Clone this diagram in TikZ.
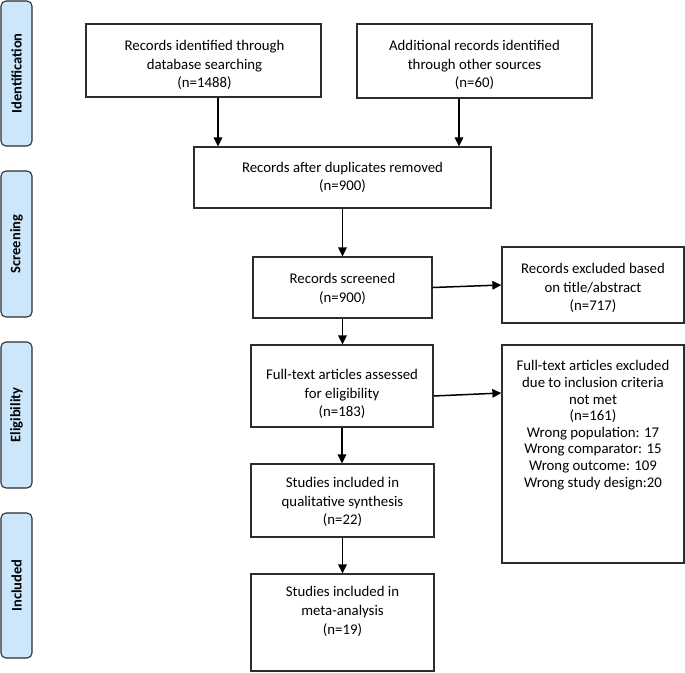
\documentclass[tikz,border=0pt]{standalone}
\usepackage{fontspec}
\setmainfont{Carlito}
\usetikzlibrary{arrows.meta}
\definecolor{sidefill}{RGB}{204,231,252}
\definecolor{boxline}{RGB}{45,45,45}
\tikzset{
  box/.style={draw=boxline, line width=1.3pt, rectangle, inner sep=0pt},
  boxtext/.style={inner sep=0pt, align=center, font=\fontsize{14.8}{18.5}\selectfont},
  side/.style={draw=boxline, fill=sidefill, line width=1.1pt, rounded corners=5pt,
    minimum width=31pt, inner sep=0pt},
  sidetext/.style={font=\fontsize{14.5}{16}\selectfont\bfseries, rotate=90},
  arr/.style={line width=1.5pt, draw=black, -{Triangle[length=9pt,width=8.5pt]}}
}
\begin{document}
\begin{tikzpicture}[x=1pt,y=-1pt]
\useasboundingbox (0,0) rectangle (685,672);
% side bars
\node[side, minimum height=145pt] (s1) at (16.5,73.5) {};
\node[sidetext] (s1t) at (s1.center) {Identification};
\node[side, minimum height=146pt] (s2) at (16.5,244) {};
\node[sidetext] (s2t) at (s2.center) {Screening};
\node[side, minimum height=146pt] (s3) at (16.5,415) {};
\node[sidetext] (s3t) at (s3.center) {Eligibility};
\node[side, minimum height=145pt] (s4) at (16.5,585.5) {};
\node[sidetext] (s4t) at (s4.center) {Included};
% boxes
\node[box, minimum width=235pt, minimum height=73pt] (b1) at (203.5,60.5) {};
\node[boxtext] (b1t) at (204.5,65)
  {Records identified through\\database searching\\(n=1488)};
\node[box, minimum width=235pt, minimum height=74pt] (b2) at (474.5,61) {};
\node[boxtext] (b2t) at (474.5,65)
  {Additional records identified\\through other sources\\(n=60)};
\node[box, minimum width=297pt, minimum height=61pt] (b3) at (342.5,177.5) {};
\node[boxtext] (b3t) at (342.5,177.5)
  {Records after duplicates removed\\(n=900)};
\node[box, minimum width=179pt, minimum height=61pt] (b4) at (342.5,287.5) {};
\node[boxtext] (b4t) at (342.5,289)
  {Records screened\\(n=900)};
\node[box, minimum width=182pt, minimum height=76pt] (b5) at (593,285) {};
\node[boxtext] (b5t) at (593,288)
  {Records excluded based\\on title/abstract\\(n=717)};
\node[box, minimum width=182pt, minimum height=82pt] (b6) at (342,386) {};
\node[boxtext] (b6t) at (342,394)
  {Full-text articles assessed\\for eligibility\\(n=183)};
\node[box, minimum width=182pt, minimum height=218pt] (b7) at (593,454) {};
\node[boxtext, anchor=north, font=\fontsize{14.8}{16.6}\selectfont] (b7t) at ([yshift=-16pt]b7.north)
  {Full-text articles excluded\\due to inclusion criteria\\not met\\(n=161)\\Wrong population: 17\\Wrong comparator: 15\\Wrong outcome: 109\\Wrong study design:20};
\node[box, minimum width=183pt, minimum height=73pt] (b8) at (342.5,500.5) {};
\node[boxtext] (b8t) at (342.5,502)
  {Studies included in\\qualitative synthesis\\(n=22)};
\node[box, minimum width=183pt, minimum height=97pt] (b9) at (342.5,622.5) {};
\node[boxtext, anchor=north, font=\fontsize{14.8}{19}\selectfont] (b9t) at ([yshift=-13pt]b9.north)
  {Studies included in\\meta-analysis\\(n=19)};
% connectors
\coordinate (c1) at (218,0);
\coordinate (c2) at (459,0);
\draw[arr] (c1 |- b1.south) -- (c1 |- b3.north);
\draw[arr] (c2 |- b2.south) -- (c2 |- b3.north);
\draw[arr] (b3.south) -- (b4.north);
\draw[arr] (b4.east) -- (b5.west);
\draw[arr] (b4.south) -- (b4.south |- b6.north);
\coordinate (c3) at (0,396);
\coordinate (c4) at (0,393);
\draw[arr] (b6.east |- c3) -- (b7.west |- c4);
\draw[arr] (b6.south) -- (b6.south |- b8.north);
\draw[arr] (b8.south) -- (b9.north);
\end{tikzpicture}
\end{document}
